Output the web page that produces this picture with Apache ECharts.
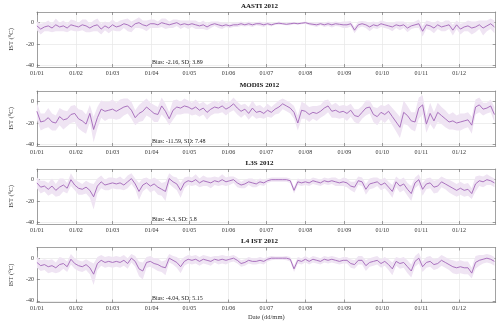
<!DOCTYPE html>
<html><head><meta charset="utf-8">
<script src="https://cdn.jsdelivr.net/npm/echarts@6/dist/echarts.min.js"></script>
<style>html,body{margin:0;padding:0;background:#fff}#c{width:500px;height:323px}</style>
</head><body><div id="c"></div>
<script>
// sampling: one value every 3 days starting 01/01/2012
const stepDays = 3;
const tickDays = [0, 31, 60, 91, 121, 152, 182, 213, 244, 274, 305, 335];
const tickLabels = ['01/01','01/02','01/03','01/04','01/05','01/06','01/07','01/08','01/09','01/10','01/11','01/12'];
const yTicks = [-40, -20, 0];
const panelTitles = ['AASTI 2012', 'MODIS 2012', 'L3S 2012', 'L4 IST 2012'];
const statTexts = ['Bias: -2.16, SD: 3.89', 'Bias: -11.59, SD: 7.48', 'Bias: -4.3, SD: 5.8', 'Bias: -4.04, SD: 5.15'];

const aastiMean = [
 -3,-6,-4,-3,-5,-2,-4,-3,-5,-2,-3,
 -4,-2,-3,-5,-3,-2,-6,-3,-5,-2,
 -4,-3,-1,-2,-4,-1,0,-2,-3,-1,
 -1,-2,0,-1,-2,-1,0,-2,-1,-2,
 -1,-2,-3,-2,-4,-2,-1,-2,-3,-2,
 -3,-2,-2,-1,-2,-1,-2,-1,-1,-2,
 -1,-2,-1,-0.5,-1,-1.5,-1,-0.5,-1,-0.5,0,
 -1,-1.5,-2,-1,-2,-1,-2,-1,-1.5,-2,
 -2,-1,-7,-2,-1,-2,-4,-2,-3,-1,
 -2,-3,-4,-2,-3,-2,-5,-3,-2,-1,
 -8,-2,-3,-5,-2,-4,-3,-2,-7,-2,
 -6,-4,-3,-5,-4,-2,-5,-3,-1,-4];
const aastiSpread = [
 4,5,4,5,4,6,4,5,4,5,5,
 4,5,6,4,5,6,5,4,5,5,
 4,5,4,6,5,4,5,4,5,4,
 4,3,4,5,3,4,3,4,3,4,
 3,4,3,4,3,3,2,3,3,2,
 2,2,2,2,1.5,2,2,1.5,2,2,
 1.5,1.5,1,1.5,1,1,1.5,1,1,1,1,
 1.5,1.5,2,1.5,2,2,2.5,2,2,3,
 3,2.5,3,3,2.5,3,4,3,3,3,
 3,3,4,3,4,3,4,3,3,4,
 5,4,4,5,4,4,5,4,5,4,
 5,4,5,6,5,4,7,5,5,6];

const modisMean = [
 -9,-19,-18,-15,-19,-20,-14,-17,-16,-12,-11,
 -16,-18,-21,-11,-26,-15,-7,-9,-8,-7,
 -9,-7,-5,-4,-8,-15,-11,-9,-5,-8,
 -11,-12,-4,-9,-16,-8,-5,-6,-4,-5,
 -7,-5,-8,-6,-10,-7,-5,-6,-4,-7,
 -5,-2,-6,-9,-7,-11,-6,-10,-9,-11,
 -8,-10,-7,-5,-2,-4,-6,-10,-20,-8,-9,
 -12,-10,-11,-9,-6,-4,-9,-8,-10,-9,
 -11,-8,-13,-14,-10,-6,-5,-12,-14,-10,
 -12,-9,-14,-19,-24,-10,-13,-18,-19,-6,
 -3,-21,-11,-18,-10,-13,-16,-19,-18,-20,
 -19,-18,-17,-22,-5,-3,-7,-6,-4,-12];
const modisSpread = [
 8,8,7,9,8,7,8,9,7,8,8,
 9,10,9,8,12,10,8,9,8,9,
 8,9,8,7,8,7,8,9,8,7,
 8,7,8,7,6,9,7,6,7,6,
 6,7,6,6,7,6,6,5,6,6,
 5,6,6,6,5,6,7,6,6,5,
 6,5,5,6,5,5,5,6,7,8,7,
 7,6,7,6,7,6,6,7,6,6,
 7,6,6,7,6,7,6,7,8,7,
 8,7,8,9,10,11,9,8,9,10,
 9,8,10,8,9,8,8,7,8,7,
 8,7,7,8,7,7,6,5,6,7];

const l3sMean = [
 -3,-7,-6,-9,-6,-10,-7,-5,-8,0,-5,
 -8,-9,-7,-10,-16,-6,-2,-5,-4,-3,
 -4,-3,-5,-2,1,-4,-11,-5,-3,-6,
 -4,-7,-9,-11,1,-2,-4,-10,-3,-1,
 -2,0,-3,-1,-2,-3,-1,-2,0,-2,
 -1,0,-3,-5,-4,-2,-3,-4,-2,-3,
 -1,0,0,0,0,0,-1,-10,-2,-3,-2,
 -3,-1,-2,-3,-1,-2,-1,-2,-3,-2,
 -3,-6,-7,-1,-2,-9,-4,-3,-2,-5,
 -3,-7,-11,-2,-6,-4,-9,-13,-3,0,
 -9,-4,-3,-7,-6,-2,-4,-6,-8,-10,
 -8,-10,-9,-13,-4,-1,-2,0,-1,-3];
const l3sSpread = [
 5,6,5,6,7,6,8,6,5,6,5,
 6,5,6,7,12,7,6,5,6,5,
 5,6,5,6,5,5,8,6,5,6,
 6,7,6,9,5,5,6,7,5,4,
 4,5,4,5,4,5,4,4,5,4,
 4,3,4,3,4,3,4,3,3,3,
 2,2,2,2,2,2,2,3,3,3,3,
 3,3,3,3,3,3,3,4,3,4,
 4,4,5,4,4,5,5,5,4,5,
 5,5,6,5,6,6,6,7,5,5,
 6,5,5,6,6,5,5,6,6,6,
 6,6,6,5,7,5,5,5,4,4];

const l4Mean = [
 -4,-7,-6,-8,-7,-9,-6,-5,-8,-1,-5,
 -7,-8,-6,-9,-15,-5,-2,-4,-3,-4,
 -3,-4,-2,-5,0,-3,-10,-12,-4,-3,
 -5,-6,-8,-9,0,-2,-4,-8,-3,-1,
 -2,-1,-3,-1,-2,-3,-1,-2,-1,-2,
 -1,0,-2,-5,-4,-2,-3,-3,-2,-3,
 -1,0,0,0,0,0,-1,-10,-2,-3,-1,
 -3,-1,-2,-3,-1,-2,-1,-2,-3,-2,
 -2,-5,-6,-2,-2,-7,-4,-3,-2,-5,
 -3,-6,-10,-3,-5,-4,-8,-12,-3,0,
 -8,-4,-3,-6,-5,-2,-4,-6,-8,-9,
 -8,-9,-9,-14,-4,-2,-1,0,-1,-3];
const l4Spread = [
 5,5,5,6,6,5,7,5,5,5,5,
 5,5,5,6,10,6,5,5,5,5,
 5,5,5,5,4,5,7,8,5,5,
 5,6,5,7,4,4,5,6,4,4,
 4,4,4,4,4,4,3,4,4,4,
 3,3,3,3,3,3,3,3,3,3,
 2,2,1.5,1.5,1.5,2,2,3,3,3,3,
 3,3,3,3,3,3,3,3,3,3,
 3,4,4,4,4,5,4,4,4,4,
 4,5,6,4,5,5,6,6,5,5,
 5,5,5,5,5,5,5,5,6,6,
 6,6,6,5,6,5,4,4,4,4];

const panels = [
  {mean: aastiMean, spread: aastiSpread},
  {mean: modisMean, spread: modisSpread},
  {mean: l3sMean, spread: l3sSpread},
  {mean: l4Mean, spread: l4Spread}
];

const FONT = 'Liberation Serif';
const LINE = '#a165b8';
const BAND = '#efe4f3';
const AXIS = '#8a8a8a';
const TICK = '#777';
const GRID = '#e6e6e6';
const gridTops = [12, 91, 169, 247.5];
const gridH = 55;
const X_MIN = 0, X_MAX = 364, Y_MIN = -41.5, Y_MAX = 10;

function bandRender(params, api) {
  if (params.dataIndexInside !== 0) return null;
  const n = params.dataInsideLength;
  const pts = [];
  for (let i = 0; i < n; i++) pts.push(api.coord([api.value(0, i), api.value(2, i)]));
  for (let i = n - 1; i >= 0; i--) pts.push(api.coord([api.value(0, i), api.value(1, i)]));
  return {type: 'polygon', shape: {points: pts}, style: {fill: BAND, stroke: null}, silent: true};
}

const grids = [], xAxes = [], yAxes = [], series = [], graphics = [];
panels.forEach((p, k) => {
  grids.push({left: 23, right: 4.3, top: gridTops[k], height: gridH, show: false});
  const last = k === panels.length - 1;
  xAxes.push({
    type: 'value', gridIndex: k, min: X_MIN, max: X_MAX, position: 'bottom',
    axisLine: {show: true, onZero: false, lineStyle: {color: AXIS, width: 0.8}},
    axisTick: {show: true, inside: true, length: 3, customValues: tickDays, lineStyle: {color: TICK, width: 0.7}},
    axisLabel: {show: true, customValues: tickDays, margin: 3, fontFamily: FONT, fontSize: 6, color: '#333',
      formatter: v => tickLabels[tickDays.indexOf(v)] || ''},
    splitLine: {show: true, lineStyle: {color: GRID, width: 0.7}},
    name: last ? 'Date (dd/mm)' : '', nameLocation: 'middle', nameGap: 11,
    nameTextStyle: {fontFamily: FONT, fontSize: 6.5, color: '#333'}
  });
  xAxes.push({
    type: 'value', gridIndex: k, min: X_MIN, max: X_MAX, position: 'top',
    axisLine: {show: true, onZero: false, lineStyle: {color: AXIS, width: 0.8}},
    axisTick: {show: true, inside: true, length: 3, customValues: tickDays, lineStyle: {color: TICK, width: 0.7}},
    axisLabel: {show: false}, splitLine: {show: false}
  });
  yAxes.push({
    type: 'value', gridIndex: k, min: Y_MIN, max: Y_MAX, position: 'left',
    axisLine: {show: true, onZero: false, lineStyle: {color: AXIS, width: 0.8}},
    axisTick: {show: true, inside: true, length: 3, customValues: yTicks, lineStyle: {color: TICK, width: 0.7}},
    axisLabel: {show: true, customValues: yTicks, margin: 3, fontFamily: FONT, fontSize: 6, color: '#333'},
    splitLine: {show: true, lineStyle: {color: GRID, width: 0.7}},
    name: 'IST (°C)', nameLocation: 'middle', nameRotate: 90, nameGap: 11,
    nameTextStyle: {fontFamily: FONT, fontSize: 6.5, color: '#333'}
  });
  yAxes.push({
    type: 'value', gridIndex: k, min: Y_MIN, max: Y_MAX, position: 'right',
    axisLine: {show: true, onZero: false, lineStyle: {color: AXIS, width: 0.8}},
    axisTick: {show: true, inside: true, length: 3, customValues: yTicks, lineStyle: {color: TICK, width: 0.7}},
    axisLabel: {show: false}, splitLine: {show: false}
  });
  const xi = 2 * k, yi = 2 * k;
  const band = p.mean.map((m, i) => [i * stepDays, m - p.spread[i], m + p.spread[i]]);
  const mean = p.mean.map((m, i) => [i * stepDays, m]);
  series.push({type: 'custom', xAxisIndex: xi, yAxisIndex: yi, data: band, renderItem: bandRender,
    encode: {x: 0, y: [1, 2]}, silent: true, z: 1});
  series.push({type: 'line', xAxisIndex: xi, yAxisIndex: yi, data: mean, symbol: 'none',
    lineStyle: {color: LINE, width: 0.9}, z: 2});
  graphics.push({type: 'text', x: 259.5, y: gridTops[k] - 6,
    style: {text: panelTitles[k], font: 'bold 7px "Liberation Serif"', fill: '#111', align: 'center', verticalAlign: 'middle'}});
  graphics.push({type: 'text', x: 152, y: gridTops[k] + gridH - 4.5,
    style: {text: statTexts[k], font: '6px "Liberation Serif"', fill: '#222', align: 'left', verticalAlign: 'middle'}});
});

const chart = echarts.init(document.getElementById('c'), null, {renderer: 'canvas'});
chart.setOption({
  animation: false,
  backgroundColor: '#fff',
  grid: grids, xAxis: xAxes, yAxis: yAxes, series: series, graphic: graphics
});
</script></body></html>
